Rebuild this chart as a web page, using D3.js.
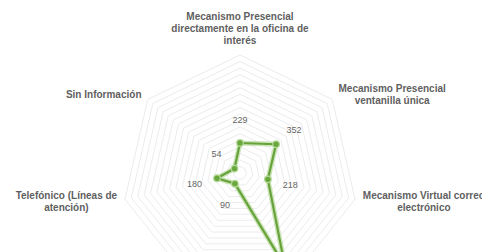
<!DOCTYPE html>
<html lang="es">
<head>
  <meta charset="UTF-8">
  <title>radar</title>
  <script src="https://d3js.org/d3.v7.min.js"></script>
  <style>
    body { margin: 0; background: #fff; }
    text { font-family: "Liberation Sans", Arial, sans-serif; }
  </style>
</head>
<body>
  <div id="chart"></div>
  <script>
    // categorias del radar (sentido horario desde arriba)
    var categories = [
      "Mecanismo Presencial\ndirectamente en la oficina de\ninterés",
      "Mecanismo Presencial\nventanilla única",
      "Mecanismo Virtual  correo\nelectrónico",
      "Mecanismo Virtual\nformulario web",
      "Otro",
      "Telefónico (Líneas de\natención)",
      "Sin Información"
    ];
    var values = [229, 352, 218, 790, 90, 180, 54];
    var gridTicks = d3.range(50, 901, 50);

    var width = 482, height = 252;
    var cx = 240, cy = 173, radius = 118;

    var svg = d3.select("#chart").append("svg")
      .attr("width", width)
      .attr("height", height);

    svg.append("rect").attr("width", width).attr("height", height).attr("fill", "#fff");

    var r = d3.scaleLinear().domain([0, 900]).range([0, radius]);
    var angle = d3.scalePoint().domain(d3.range(categories.length + 1)).range([0, 2 * Math.PI]);

    function pt(i, rad) {
      var a = angle(i);
      return [cx + rad * Math.sin(a), cy - rad * Math.cos(a)];
    }

    var g = svg.append("g");

    // anillos de la grilla
    g.selectAll(".ring")
      .data(gridTicks)
      .join("polygon")
      .attr("points", function (t) {
        return d3.range(categories.length).map(function (i) { return pt(i, r(t)).join(","); }).join(" ");
      })
      .attr("fill", "none")
      .attr("stroke", "#ececec")
      .attr("stroke-width", 1);

    // serie
    var line = d3.lineRadial()
      .angle(function (d, i) { return angle(i); })
      .radius(function (d) { return r(d); })
      .curve(d3.curveLinearClosed);

    var serie = g.append("g").attr("transform", "translate(" + cx + "," + cy + ")");
    serie.append("path")
      .attr("d", line(values))
      .attr("fill", "none")
      .attr("stroke", "#b5d99a")
      .attr("stroke-width", 5)
      .attr("stroke-linejoin", "round")
      .attr("opacity", 0.7);
    serie.append("path")
      .attr("d", line(values))
      .attr("fill", "none")
      .attr("stroke", "#67a33a")
      .attr("stroke-width", 2.2)
      .attr("stroke-linejoin", "round");

    g.selectAll(".dot")
      .data(values)
      .join("circle")
      .attr("cx", function (d, i) { return pt(i, r(d))[0]; })
      .attr("cy", function (d, i) { return pt(i, r(d))[1]; })
      .attr("r", 3.3)
      .attr("fill", "#6aa83d")
      .attr("stroke", "#b5d99a")
      .attr("stroke-width", 1.2);

    // etiquetas de valores
    g.selectAll(".val")
      .data(values)
      .join("text")
      .attr("x", function (d, i) { return pt(i, r(d) + 23)[0]; })
      .attr("y", function (d, i) { return pt(i, r(d) + 23)[1]; })
      .attr("text-anchor", "middle")
      .attr("dy", "0.35em")
      .attr("font-size", 9)
      .attr("fill", "#666")
      .text(function (d) { return d; });

    // etiquetas de categorias
    var lineH = 12;
    categories.forEach(function (c, i) {
      var lines = c.split("\n");
      var a = angle(i);
      var p = pt(i, radius + 8);
      var t = svg.append("text")
        .attr("font-size", 10)
        .attr("font-weight", "bold")
        .attr("fill", "#5f5f5f")
        .attr("text-anchor", "middle");
      var spans = lines.map(function (l) { return t.append("tspan").text(l); });
      var maxW = d3.max(spans, function (s) { return s.node().getComputedTextLength(); });
      var s = Math.sin(a), co = Math.cos(a);
      var xc = p[0];
      if (s > 0.1) xc = p[0] + maxW / 2;
      else if (s < -0.1) xc = p[0] - maxW / 2;
      var y0;
      if (co > 0.9) y0 = p[1] - (lines.length - 1) * lineH - 3;
      else if (co < -0.9) y0 = p[1] + 9;
      else y0 = p[1] - (lines.length - 1) * lineH / 2 + 3.5;
      spans.forEach(function (sp, k) {
        sp.attr("x", xc).attr("y", y0 + k * lineH);
      });
    });
  </script>
</body>
</html>
